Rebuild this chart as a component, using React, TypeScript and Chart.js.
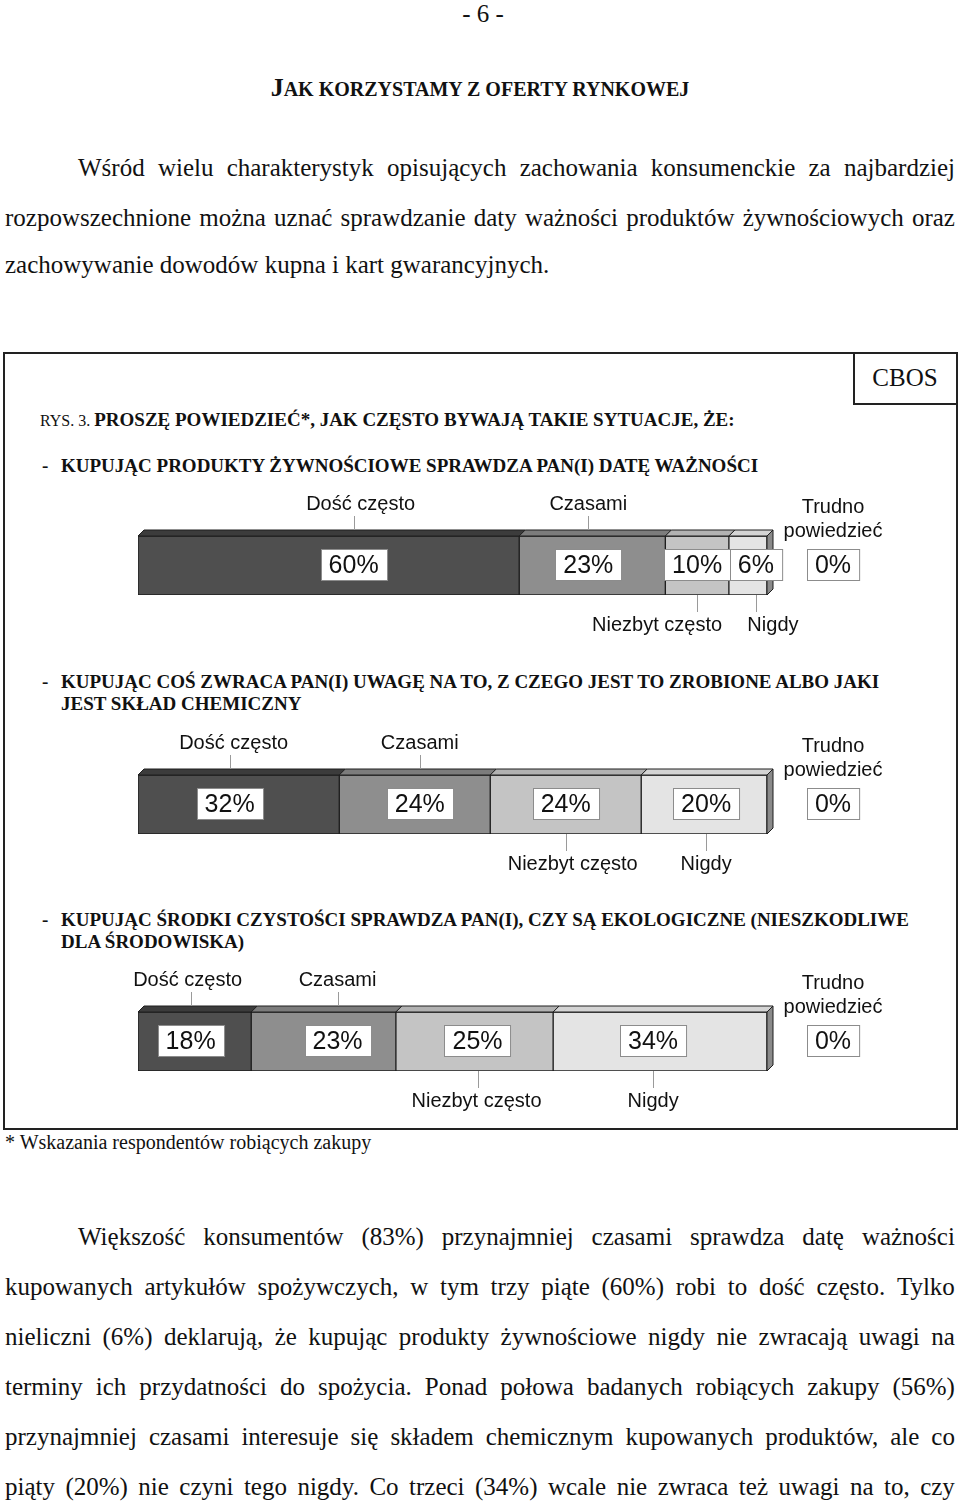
import React, { useEffect, useRef } from "react";
import { Chart, registerables } from "chart.js";

Chart.register(...registerables);

// ---- data ----
const categories = ["Dość często", "Czasami", "Niezbyt często", "Nigdy", "Trudno powiedzieć"];
const expiryCheckValues = [60, 23, 10, 6, 0];
const compositionValues = [32, 24, 24, 20, 0];
const ecoValues = [18, 23, 25, 34, 0];

// ---- styles ----
const segmentColors = ["#4f4f4f", "#8e8e8e", "#c4c4c4", "#e4e4e4", "#ffffff"];
const topColors = ["#3c3c3c", "#7c7c7c", "#b2b2b2", "#d4d4d4", "#ffffff"];
const serif = "'Liberation Serif', 'Times New Roman', serif";
const sans = "'Liberation Sans', Arial, Helvetica, sans-serif";
const DX = 6;
const DY = 6;

type Layout = { boxShift: number[]; textShift: number[] };
const expiryLayout: Layout = { boxShift: [25, -4, 0, 8], textShift: [7, 0, -40, 17] };
const compositionLayout: Layout = { boxShift: [-9, 5, 0, 2], textShift: [4, 0, 7, 0] };
const ecoLayout: Layout = { boxShift: [-4, 14, 3, -7], textShift: [-3, 0, -1, 0] };

function makeDecorPlugin(values: number[], layout: Layout) {
  return {
    id: "decor",
    afterDatasetsDraw(chart: any) {
      const ctx = chart.ctx as CanvasRenderingContext2D;
      const area = chart.chartArea;
      const segs = values.map((v, i) => {
        const el = chart.getDatasetMeta(i).data[0];
        const p = el.getProps(["x", "base", "y", "height"], true);
        return {
          v,
          left: Math.min(p.x, p.base),
          right: Math.max(p.x, p.base),
          top: p.y - p.height / 2,
          bottom: p.y + p.height / 2,
        };
      });
      ctx.save();
      ctx.lineWidth = 1;
      ctx.strokeStyle = "#1e1e1e";
      // top faces
      segs.forEach((s, i) => {
        if (s.v <= 0) return;
        ctx.beginPath();
        ctx.moveTo(s.left, s.top);
        ctx.lineTo(s.left + DX, s.top - DY);
        ctx.lineTo(s.right + DX, s.top - DY);
        ctx.lineTo(s.right, s.top);
        ctx.closePath();
        ctx.fillStyle = topColors[i];
        ctx.fill();
        ctx.stroke();
      });
      // side face
      let last = -1;
      segs.forEach((s, i) => { if (s.v > 0) last = i; });
      if (last >= 0) {
        const s = segs[last];
        ctx.beginPath();
        ctx.moveTo(s.right, s.top);
        ctx.lineTo(s.right + DX, s.top - DY);
        ctx.lineTo(s.right + DX, s.bottom - DY);
        ctx.lineTo(s.right, s.bottom);
        ctx.closePath();
        ctx.fillStyle = "#8a8a8a";
        ctx.fill();
        ctx.stroke();
      }

      const drawBox = (cx: number, cy: number, text: string) => {
        ctx.font = `25px ${sans}`;
        const tw = ctx.measureText(text).width;
        const w = tw + 16;
        const h = 31;
        const x0 = Math.round(cx - w / 2) + 0.5;
        const y0 = Math.round(cy - h / 2) + 0.5;
        ctx.fillStyle = "#ffffff";
        ctx.fillRect(x0, y0, w, h);
        ctx.strokeStyle = "#8c8c8c";
        ctx.lineWidth = 1;
        ctx.strokeRect(x0, y0, w, h);
        ctx.fillStyle = "#111111";
        ctx.textAlign = "center";
        ctx.textBaseline = "middle";
        ctx.fillText(text, cx, cy + 1.5);
      };
      const drawLeader = (x: number, y1: number, y2: number) => {
        ctx.strokeStyle = "#9a9a9a";
        ctx.lineWidth = 1;
        ctx.beginPath();
        const xx = Math.round(x) + 0.5;
        ctx.moveTo(xx, y1);
        ctx.lineTo(xx, y2);
        ctx.stroke();
      };
      const drawLabel = (x: number, y: number, text: string) => {
        ctx.font = `20px ${sans}`;
        ctx.fillStyle = "#111111";
        ctx.textAlign = "center";
        ctx.textBaseline = "middle";
        ctx.fillText(text, x, y);
      };

      segs.forEach((s, i) => {
        if (i < 4) {
          const cx = (s.left + s.right) / 2 + layout.boxShift[i];
          drawBox(cx, s.top + 28.5, `${values[i]}%`);
          if (i < 2) {
            drawLeader(cx, s.top - 20, s.top - DY);
            drawLabel(cx + layout.textShift[i], s.top - 32, categories[i]);
          } else {
            drawLeader(cx, s.bottom, s.bottom + 17);
            drawLabel(cx + layout.textShift[i], s.bottom + 30, categories[i]);
          }
        } else {
          const x = area.right + 66;
          const words = categories[i].split(" ");
          drawLabel(x, area.top - 29, words[0]);
          drawLabel(x, area.top - 5, words.slice(1).join(" "));
          drawBox(x, area.top + 28.5, `${values[i]}%`);
        }
      });
      ctx.restore();
    },
  };
}

function StackedBar({ values, layout, top }: { values: number[]; layout: Layout; top: number }) {
  const ref = useRef<HTMLCanvasElement>(null);
  useEffect(() => {
    if (!ref.current) return;
    const total = values.reduce((a, b) => a + b, 0);
    const chart = new Chart(ref.current, {
      type: "bar",
      data: {
        labels: [""],
        datasets: categories.map((c, i) => ({
          label: c,
          data: [values[i]],
          backgroundColor: segmentColors[i],
          borderColor: "#1e1e1e",
          borderWidth: values[i] > 0 ? 1 : 0,
          borderSkipped: false,
          barPercentage: 1,
          categoryPercentage: 1,
        })),
      },
      options: {
        indexAxis: "y",
        responsive: false,
        maintainAspectRatio: false,
        animation: false,
        events: [],
        layout: { padding: { left: 138, right: 193, top: 56, bottom: 55 } },
        scales: {
          x: { stacked: true, display: false, min: 0, max: total },
          y: { stacked: true, display: false },
        },
        plugins: { legend: { display: false }, tooltip: { enabled: false } },
      },
      plugins: [makeDecorPlugin(values, layout)],
    } as any);
    return () => chart.destroy();
  }, []);
  return (
    <canvas
      ref={ref}
      width={960}
      height={170}
      style={{ position: "absolute", left: 0, top, width: 960, height: 170 }}
    />
  );
}

function Txt({ x, y, size, bold, center, children }: any) {
  const s: any = {
    position: "absolute",
    top: y - size * 0.6,
    left: x,
    fontSize: size,
    lineHeight: size * 1.2 + "px",
    whiteSpace: "nowrap",
    fontWeight: bold ? "bold" : "normal",
  };
  if (center) s.transform = "translateX(-50%)";
  return <div style={s}>{children}</div>;
}

function JLine({ x, y, w, size, text }: any) {
  const words = text.split(" ");
  return (
    <div
      style={{
        position: "absolute",
        left: x,
        top: y - size * 0.6,
        width: w,
        display: "flex",
        justifyContent: "space-between",
        fontSize: size,
        lineHeight: size * 1.2 + "px",
        whiteSpace: "nowrap",
      }}
    >
      {words.map((wd: string, i: number) => (
        <span key={i}>{wd}</span>
      ))}
    </div>
  );
}

const bottomLines = [
  "Większość konsumentów (83%) przynajmniej czasami sprawdza datę ważności",
  "kupowanych artykułów spożywczych, w tym trzy piąte (60%) robi to dość często. Tylko",
  "nieliczni (6%) deklarują, że kupując produkty żywnościowe nigdy nie zwracają uwagi na",
  "terminy ich przydatności do spożycia. Ponad połowa badanych robiących zakupy (56%)",
  "przynajmniej czasami interesuje się składem chemicznym kupowanych produktów, ale co",
  "piąty (20%) nie czyni tego nigdy. Co trzeci (34%) wcale nie zwraca też uwagi na to, czy",
];

export default function App() {
  useEffect(() => {
    document.body.style.margin = "0";
  }, []);
  const H = 19;
  return (
    <div
      style={{
        position: "absolute",
        left: 0,
        top: 0,
        width: 960,
        height: 1501,
        overflow: "hidden",
        background: "#ffffff",
        color: "#111111",
        fontFamily: serif,
      }}
    >
      <Txt x={483} y={14} size={25} center>- 6 -</Txt>
      <Txt x={480} y={88} size={26} bold center>
        <span style={{ fontSize: 26 }}>J</span>
        <span style={{ fontSize: 20 }}>AK KORZYSTAMY Z OFERTY RYNKOWEJ</span>
      </Txt>

      <JLine x={78} y={168} w={877} size={25} text="Wśród wielu charakterystyk opisujących zachowania konsumenckie za najbardziej" />
      <JLine x={5} y={218} w={950} size={25} text="rozpowszechnione można uznać sprawdzanie daty ważności produktów żywnościowych oraz" />
      <Txt x={5} y={265} size={25}>zachowywanie dowodów kupna i kart gwarancyjnych.</Txt>

      {/* figure frame */}
      <div
        style={{
          position: "absolute",
          left: 3,
          top: 352,
          width: 955,
          height: 778,
          border: "2px solid #222",
          boxSizing: "border-box",
        }}
      />
      <div
        style={{
          position: "absolute",
          left: 853,
          top: 352,
          width: 105,
          height: 53,
          borderLeft: "2px solid #222",
          borderBottom: "2px solid #222",
          boxSizing: "border-box",
        }}
      />
      <Txt x={905} y={378} size={25} center>CBOS</Txt>

      <Txt x={40} y={420} size={H}>
        <span style={{ fontSize: 16 }}>RYS. 3. </span>
        <b>PROSZĘ POWIEDZIEĆ*, JAK CZĘSTO BYWAJĄ TAKIE SYTUACJE, ŻE:</b>
      </Txt>

      <Txt x={42} y={466} size={H} bold>-</Txt>
      <Txt x={61} y={466} size={H} bold>KUPUJĄC PRODUKTY ŻYWNOŚCIOWE SPRAWDZA PAN(I) DATĘ WAŻNOŚCI</Txt>
      <StackedBar values={expiryCheckValues} layout={expiryLayout} top={480} />

      <Txt x={42} y={682} size={H} bold>-</Txt>
      <Txt x={61} y={682} size={H} bold>KUPUJĄC COŚ ZWRACA PAN(I) UWAGĘ NA TO, Z CZEGO JEST TO ZROBIONE ALBO JAKI</Txt>
      <Txt x={61} y={704} size={H} bold>JEST SKŁAD CHEMICZNY</Txt>
      <StackedBar values={compositionValues} layout={compositionLayout} top={719} />

      <Txt x={42} y={920} size={H} bold>-</Txt>
      <Txt x={61} y={920} size={H} bold>KUPUJĄC ŚRODKI CZYSTOŚCI SPRAWDZA PAN(I), CZY SĄ EKOLOGICZNE (NIESZKODLIWE</Txt>
      <Txt x={61} y={942} size={H} bold>DLA ŚRODOWISKA)</Txt>
      <StackedBar values={ecoValues} layout={ecoLayout} top={956} />

      <Txt x={5} y={1142} size={20}>* Wskazania respondentów robiących zakupy</Txt>

      {bottomLines.map((t, i) => (
        <JLine key={i} x={i === 0 ? 78 : 5} y={1237 + i * 50} w={i === 0 ? 877 : 950} size={25} text={t} />
      ))}
    </div>
  );
}
